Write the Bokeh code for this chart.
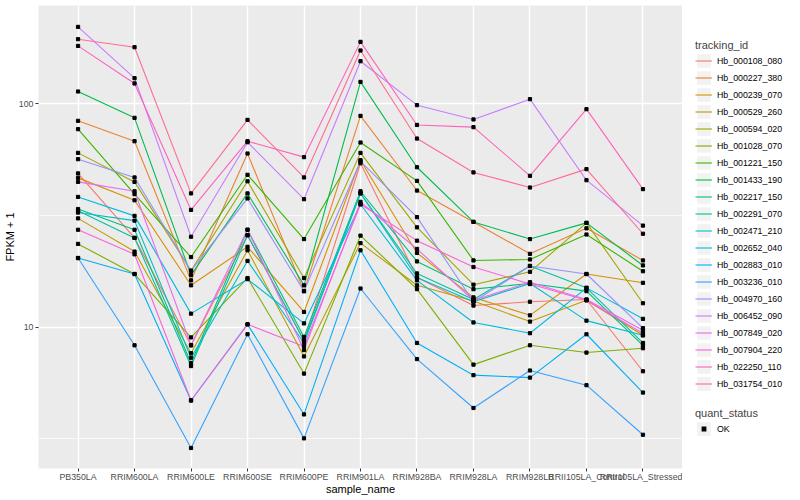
from bokeh.plotting import figure
from bokeh.layouts import row
from bokeh.models import FactorRange, Range1d, FixedTicker, Legend, LegendItem
from bokeh.embed import file_html
from bokeh.resources import INLINE

samples = ["PB350LA", "RRIM600LA", "RRIM600LE", "RRIM600SE", "RRIM600PE", "RRIM901LA",
           "RRIM928BA", "RRIM928LA", "RRIM928LB", "RRII105LA_Control", "RRII105LA_Stressed"]

tracking_ids = ["Hb_000108_080", "Hb_000227_380", "Hb_000239_070", "Hb_000529_260", "Hb_000594_020",
                "Hb_001028_070", "Hb_001221_150", "Hb_001433_190", "Hb_002217_150", "Hb_002291_070",
                "Hb_002471_210", "Hb_002652_040", "Hb_002883_010", "Hb_003236_010", "Hb_004970_160",
                "Hb_006452_090", "Hb_007849_020", "Hb_007904_220", "Hb_022250_110", "Hb_031754_010"]

colors = ["#F8766D", "#EA8331", "#D89000", "#C09B00", "#A3A500", "#7CAE00", "#39B600", "#00BB4E",
          "#00BF7D", "#00C1A3", "#00BFC4", "#00BAE0", "#00B0F6", "#35A2FF", "#9590FF", "#C77CFF",
          "#E76BF3", "#FA62DB", "#FF62BC", "#FF6C91"]

# FPKM + 1 values, one list per gene, in sample order
hb_000108_080 = [48.8, 25.1, 8.3, 25.8, 8.7, 54.2, 16.7, 12.5, 13.0, 13.3, 6.35]
hb_000227_380 = [83.9, 68.0, 16.2, 59.9, 14.5, 88.3, 40.9, 29.6, 21.3, 27.7, 19.9]
hb_000239_070 = [46.6, 37.0, 15.4, 22.9, 11.7, 55.9, 21.5, 13.6, 11.3, 17.3, 15.8]
hb_000529_260 = [30.7, 21.8, 7.65, 22.1, 7.4, 23.8, 15.4, 13.1, 10.6, 13.2, 9.2]
hb_000594_020 = [60.3, 44.7, 17.9, 45.0, 16.6, 60.3, 28.0, 15.5, 17.7, 29.3, 12.8]
hb_001028_070 = [23.6, 17.3, 9.0, 16.6, 6.2, 25.7, 14.8, 6.8, 8.3, 7.7, 8.05]
hb_001221_150 = [77.0, 39.4, 20.6, 48.1, 24.8, 67.1, 45.2, 19.9, 20.1, 26.0, 17.8]
hb_001433_190 = [113.5, 86.5, 17.1, 39.7, 15.4, 125.3, 52.0, 29.6, 24.8, 29.3, 18.9]
hb_002217_150 = [33.8, 27.3, 6.9, 27.3, 9.05, 40.6, 19.7, 14.8, 15.7, 14.5, 8.3]
hb_002291_070 = [33.2, 25.1, 6.7, 25.8, 8.7, 39.7, 17.4, 13.3, 18.8, 15.0, 8.5]
hb_002471_210 = [32.6, 30.0, 7.3, 19.8, 8.5, 39.8, 16.7, 13.0, 15.7, 10.7, 9.2]
hb_002652_040 = [38.3, 31.5, 11.5, 16.4, 10.4, 35.5, 16.2, 10.5, 9.4, 15.0, 10.9]
hb_002883_010 = [20.4, 17.3, 4.7, 10.3, 4.07, 22.1, 8.5, 6.1, 5.95, 9.3, 5.1]
hb_003236_010 = [20.4, 8.3, 2.88, 9.3, 3.18, 14.9, 7.2, 4.35, 6.4, 5.5, 3.3]
hb_004970_160 = [56.5, 46.8, 17.9, 37.7, 14.5, 55.3, 31.1, 13.0, 18.8, 17.3, 9.9]
hb_006452_090 = [220.9, 130.2, 25.4, 67.3, 37.4, 155.1, 98.6, 85.1, 104.9, 45.5, 28.5]
hb_007849_020 = [44.7, 40.6, 8.3, 27.3, 7.9, 36.4, 22.4, 13.2, 15.9, 13.3, 9.7]
hb_007904_220 = [27.3, 21.2, 4.7, 10.3, 8.2, 35.5, 24.4, 18.6, 15.6, 13.2, 9.4]
hb_022250_110 = [181.6, 123.3, 33.5, 68.0, 57.7, 189.3, 80.4, 78.6, 47.6, 94.6, 41.5]
hb_031754_010 = [194.6, 179.2, 39.7, 84.7, 46.8, 173.2, 69.9, 49.3, 42.2, 51.0, 26.2]

series = [hb_000108_080, hb_000227_380, hb_000239_070, hb_000529_260, hb_000594_020,
          hb_001028_070, hb_001221_150, hb_001433_190, hb_002217_150, hb_002291_070,
          hb_002471_210, hb_002652_040, hb_002883_010, hb_003236_010, hb_004970_160,
          hb_006452_090, hb_007849_020, hb_007904_220, hb_022250_110, hb_031754_010]

y_ticks = [10, 100]
y_minor = [3.1623, 31.623, 316.23]

FONT = "Liberation Sans"

p = figure(frame_width=644, frame_height=463,
           x_range=FactorRange(*samples, range_padding=0.2, range_padding_units="absolute"),
           y_axis_type="log", y_range=Range1d(2.331, 275.4),
           output_backend="svg", toolbar_location=None,
           min_border_left=32, min_border_right=0, min_border_top=5, min_border_bottom=0)

p.background_fill_color = "#EBEBEB"
p.border_fill_color = "white"
p.outline_line_color = None

ticker = FixedTicker(ticks=y_ticks, minor_ticks=y_minor)
p.yaxis.ticker = ticker
p.ygrid.ticker = ticker
p.yaxis.major_label_overrides = {10: "10", 100: "100"}

p.xgrid.grid_line_color = "white"
p.xgrid.grid_line_width = 1.4
p.ygrid.grid_line_color = "white"
p.ygrid.grid_line_width = 1.4
p.ygrid.minor_grid_line_color = "white"
p.ygrid.minor_grid_line_width = 0.7

for ax in (p.xaxis[0], p.yaxis[0]):
    ax.axis_line_color = None
    ax.major_tick_line_color = "#333333"
    ax.major_tick_line_width = 1
    ax.major_tick_out = 3
    ax.major_tick_in = 0
    ax.minor_tick_line_color = None
    ax.major_label_text_color = "#4D4D4D"
    ax.major_label_text_font = FONT
    ax.major_label_text_font_size = "8.8px"
    ax.axis_label_text_font = FONT
    ax.axis_label_text_font_size = "11px"
    ax.axis_label_text_font_style = "normal"
    ax.axis_label_text_color = "black"

p.xaxis.major_label_standoff = 0
p.xaxis.axis_label_standoff = -2
p.yaxis.major_label_standoff = 1
p.yaxis.axis_label_standoff = 0

p.xaxis.axis_label = "sample_name"
p.yaxis.axis_label = "FPKM + 1"

for col, vals in zip(colors, series):
    p.line(x=samples, y=vals, line_color=col, line_width=1.1)

all_x = [s for vals in series for s in samples]
all_y = [v for vals in series for v in vals]
p.scatter(x=all_x, y=all_y, marker="square", size=3.2, color="black")

# ---- legend panel (its own renderers sit outside its visible range) ----
lg = figure(width=108, height=495, output_backend="svg", toolbar_location=None,
            x_axis_type=None, y_axis_type=None,
            x_range=Range1d(0, 1), y_range=Range1d(0, 1),
            min_border_left=0, min_border_right=0, min_border_top=0, min_border_bottom=0)
lg.outline_line_color = None
lg.background_fill_color = "white"
lg.border_fill_color = "white"
lg.xgrid.visible = False
lg.ygrid.visible = False

off = [-10, -9]
items = []
for tid, col in zip(tracking_ids, colors):
    bg = lg.quad(left=[-10], right=[-9], top=[-9], bottom=[-10], fill_color="#F2F2F2", line_color=None)
    r = lg.line(x=off, y=off, line_color=col, line_width=1.1)
    items.append(LegendItem(label=tid, renderers=[bg, r]))

bg2 = lg.quad(left=[-10], right=[-9], top=[-9], bottom=[-10], fill_color="#F2F2F2", line_color=None)
pk = lg.scatter(x=[-10], y=[-10], marker="square", size=4, fill_color="black",
                line_color="#F2F2F2", line_width=2)


def style(leg):
    leg.border_line_color = None
    leg.background_fill_alpha = 0
    leg.padding = 0
    leg.margin = 0
    leg.spacing = 0
    leg.glyph_width = 17
    leg.glyph_height = 17
    leg.label_height = 17
    leg.label_standoff = 5
    leg.label_text_font = FONT
    leg.label_text_font_size = "8.8px"
    leg.label_text_color = "black"
    leg.title_text_font = FONT
    leg.title_text_font_size = "11px"
    leg.title_text_font_style = "normal"
    leg.title_standoff = 1


leg1 = Legend(items=items, title="tracking_id", location=(13, 74))
style(leg1)
lg.add_layout(leg1)

leg2 = Legend(items=[LegendItem(label="OK", renderers=[bg2, pk])], title="quant_status", location=(13, 29))
style(leg2)
lg.add_layout(leg2)

layout = row(p, lg)
open("out.html", "w").write(file_html(layout, INLINE))
